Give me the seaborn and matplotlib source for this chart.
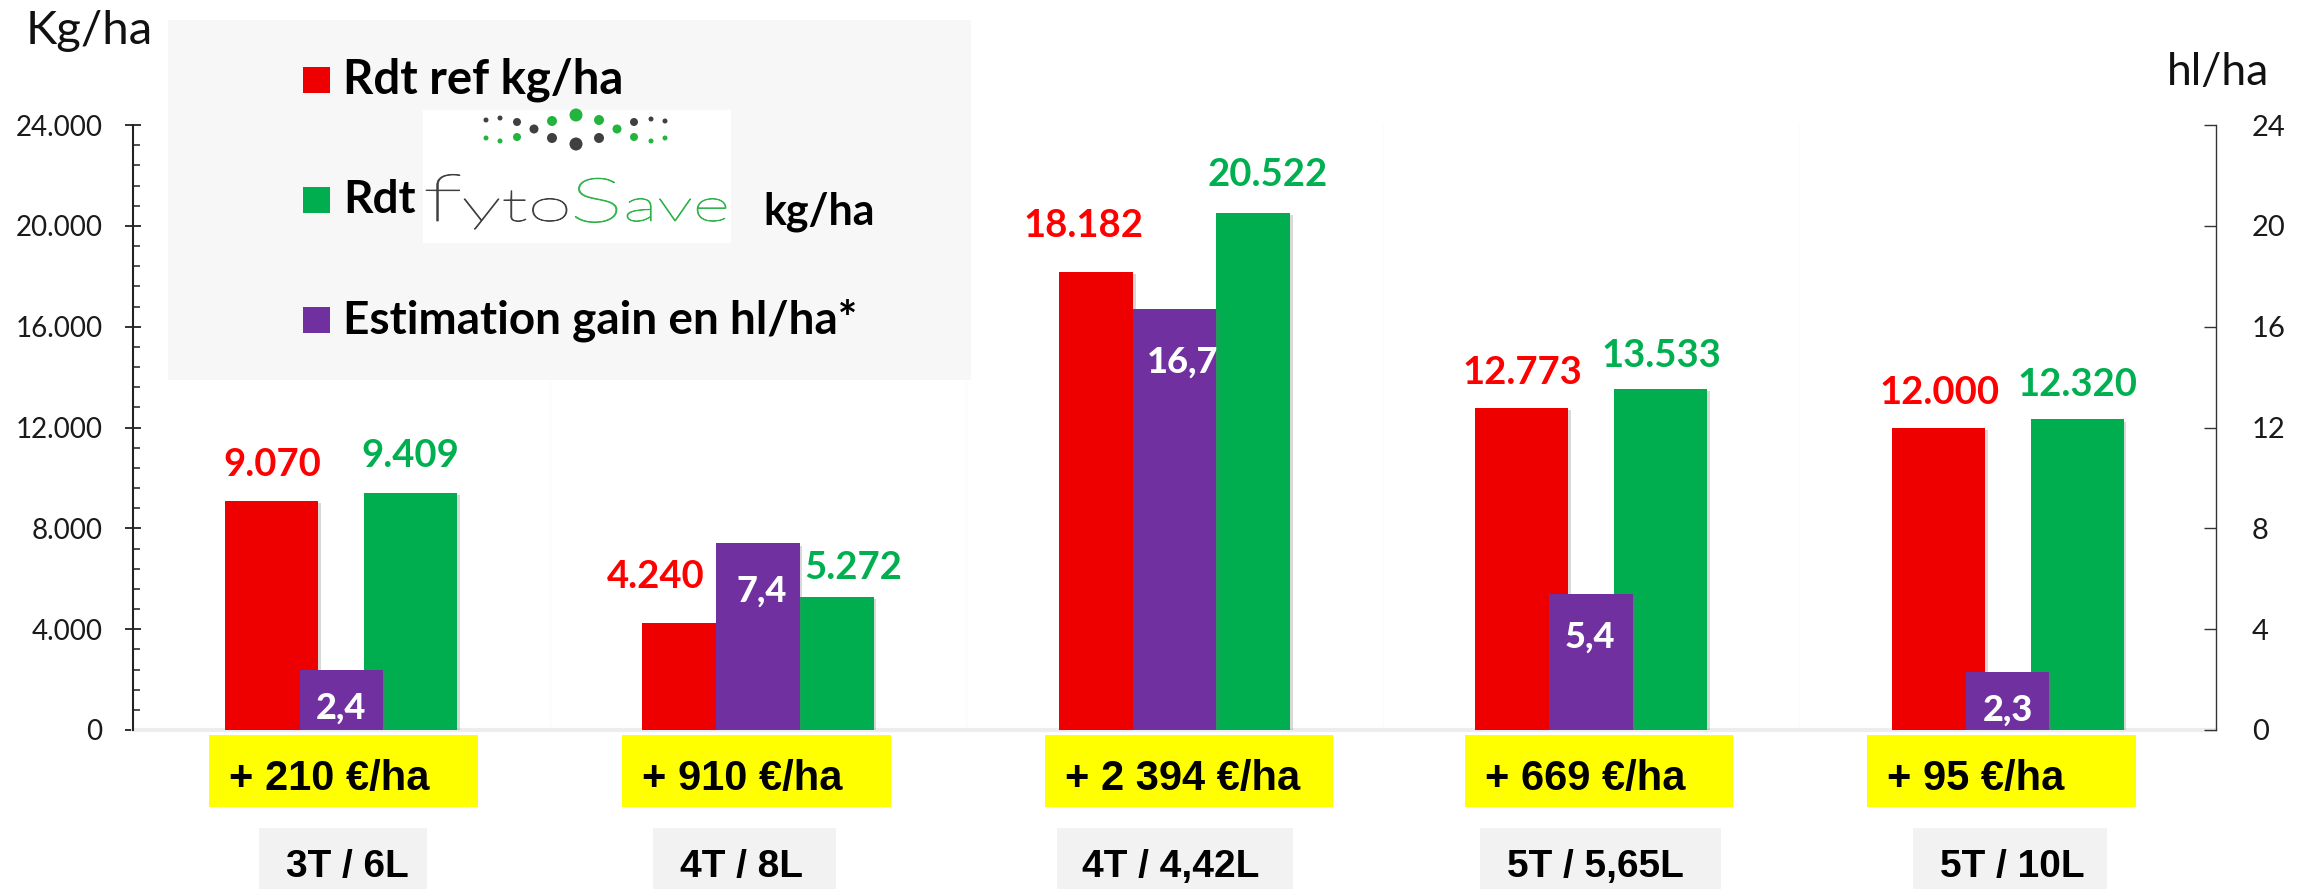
import matplotlib
matplotlib.use("Agg")
import numpy as np
import pandas as pd
import matplotlib.pyplot as plt
import matplotlib.patheffects as pe
import matplotlib.transforms as mtransforms
from matplotlib.patches import Rectangle, PathPatch
from matplotlib.textpath import TextPath
from matplotlib.font_manager import FontProperties
from matplotlib.ticker import MultipleLocator
import seaborn as sns

# ---- data -------------------------------------------------------------
essais = ["3T / 6L", "4T / 8L", "4T / 4,42L", "5T / 5,65L", "5T / 10L"]
rdt_ref = [9070, 4240, 18182, 12773, 12000]          # kg/ha
rdt_fytosave = [9409, 5272, 20522, 13533, 12320]     # kg/ha
gain_hl = [2.4, 7.4, 16.7, 5.4, 2.3]                 # hl/ha
gain_eur = [210, 910, 2394, 669, 95]                 # €/ha
kg_ticks = [0, 4000, 8000, 12000, 16000, 20000, 24000]
hl_ticks = [0, 4, 8, 12, 16, 20, 24]
legend_ref = "Rdt ref kg/ha"
legend_fyto = ("Rdt", "kg/ha")
legend_gain = "Estimation gain en hl/ha*"

RED, RED_TXT = "#EE0000", "#FF0000"
GREEN, GREEN_TXT = "#00AE50", "#00B050"
PURPLE = "#7030A0"
YELLOW = "#FFFF00"
LOGO_GREY, LOGO_GREEN = "#3F3F3F", "#2DB34A"


def fmt_kg(v):
    return f"{v:,}".replace(",", ".")


def fmt_hl(v):
    return f"{v:.1f}".replace(".", ",")


def fmt_eur(v):
    return f"+ {v:,} €/ha".replace(",", " ")


# ---- layout (pixels of a 2318 x 889 canvas) ---------------------------
W, H = 2318, 889
AX_L, AX_R, AX_T, AX_B = 133, 2216, 125, 730
outer = 0.278                                   # outer edge of red/green bars
inner = [0.055, 0.100, 0.100, 0.055, 0.055]     # inner edge of red/green bars
red_dx, red_gap = [0, -23, -12, 1, 1], [25, 35, 35, 24, 23]
green_dx, green_gap = [0, 17, 14, 1, 0], [26, 18, 27, 22, 23]
purple_dx, purple_drop = [0, 4, 8, -1, 0], [39, 48, 53, 43, 38]
yellow_l = [209, 622, 1045, 1465, 1867]
yellow_r = [478, 891, 1333, 1733, 2136]
grey_l = [259, 653, 1057, 1480, 1913]
grey_r = [427, 836, 1293, 1721, 2107]
grey_cx = [347, 742, 1171, 1595, 2012]
PX = 0.72  # points per pixel at 100 dpi

sns.set_theme(style="white")
plt.rcParams["font.family"] = ["Lato", "DejaVu Sans"]

fig = plt.figure(figsize=(W / 100, H / 100), dpi=100)
fig.patch.set_facecolor("white")
ax = fig.add_axes([AX_L / W, 1 - AX_B / H, (AX_R - AX_L) / W, (AX_B - AX_T) / H])
ax.patch.set_alpha(0)

# ---- yield bars (kg/ha, left axis) ------------------------------------
df = pd.DataFrame({
    "essai": essais * 2,
    "rdt": rdt_ref + rdt_fytosave,
    "serie": ["ref"] * len(essais) + ["fytosave"] * len(essais),
})
sns.barplot(data=df, x="essai", y="rdt", hue="serie", hue_order=["ref", "fytosave"],
            palette={"ref": RED, "fytosave": GREEN}, saturation=1, errorbar=None,
            legend=False, ax=ax, zorder=2)

ax2 = ax.twinx()
sns.barplot(x=essais, y=gain_hl, color=PURPLE, saturation=1, width=0.2,
            errorbar=None, ax=ax2, zorder=3)

red_bars, green_bars = ax.containers[0], ax.containers[1]
purple_bars = ax2.containers[0]
for i, p in enumerate(red_bars):
    p.set_x(i - outer)
    p.set_width(outer - inner[i])
for i, p in enumerate(green_bars):
    p.set_x(i + inner[i])
    p.set_width(outer - inner[i])

shadow = [pe.SimplePatchShadow(offset=(2, -1.5), shadow_rgbFace="0.45", alpha=0.28), pe.Normal()]
for bars in (red_bars, green_bars, purple_bars):
    for p in bars:
        p.set_path_effects(shadow)
        p.set_linewidth(0)

ax.set_xlim(-0.5, 4.5)
ax2.set_xlim(-0.5, 4.5)
ax.set_ylim(0, 24000)
ax2.set_ylim(0, 24)

# very faint category separators and light baseline
for b in np.arange(0.5, len(essais) - 0.5, 1):
    ax.axvline(b, color="#FBFBFB", lw=1.0, zorder=0)
ax.axhline(0, color="#EDEDED", lw=3, zorder=1, clip_on=False)

# ---- axes styling -----------------------------------------------------
ax.set_yticks(kg_ticks)
ax.set_yticklabels([fmt_kg(v) for v in kg_ticks])
ax.yaxis.set_minor_locator(MultipleLocator(800))
ax.tick_params(axis="y", which="major", direction="inout", length=12, width=1.3,
               color="#222222", pad=16, labelsize=20, labelcolor="#1A1A1A", left=True)
ax.tick_params(axis="y", which="minor", direction="in", length=5, width=1.1,
               color="#222222", left=True)
ax.tick_params(axis="x", bottom=False, labelbottom=False)
ax.set_xlabel("")
ax.set_ylabel("")
for s in ("top", "right", "bottom"):
    ax.spines[s].set_visible(False)
ax.spines["left"].set_color("#222222")
ax.spines["left"].set_linewidth(1.5)

ax2.set_yticks(hl_ticks)
ax2.set_yticklabels([str(v) for v in hl_ticks])
ax2.tick_params(axis="y", which="major", direction="in", length=8.6, width=1,
                color="#333333", pad=26, labelsize=21, labelcolor="#1A1A1A",
                right=True, left=False, labelright=True, labelleft=False)
ax2.tick_params(axis="x", bottom=False, labelbottom=False)
ax2.set_xlabel("")
ax2.set_ylabel("")
for s in ("top", "left", "bottom"):
    ax2.spines[s].set_visible(False)
ax2.spines["right"].set_color("#333333")
ax2.spines["right"].set_linewidth(1)

# ---- value labels -----------------------------------------------------
for bars, vals, dxs, gaps, col in ((red_bars, rdt_ref, red_dx, red_gap, RED_TXT),
                                   (green_bars, rdt_fytosave, green_dx, green_gap, GREEN_TXT)):
    for i, p in enumerate(bars):
        cx = p.get_x() + p.get_width() / 2
        ax2.annotate(fmt_kg(vals[i]), xy=(cx, vals[i]), xycoords=ax.transData,
                     xytext=(dxs[i] * PX, gaps[i] * PX), textcoords="offset points",
                     ha="center", va="baseline", color=col, fontsize=27.5,
                     fontweight="bold", zorder=6)

for i, p in enumerate(purple_bars):
    cx = p.get_x() + p.get_width() / 2
    ax2.annotate(fmt_hl(gain_hl[i]), xy=(cx, gain_hl[i]),
                 xytext=(purple_dx[i] * PX, -purple_drop[i] * PX), textcoords="offset points",
                 ha="center", va="center", color="white", fontsize=26,
                 fontweight="black", zorder=6)

# ---- overlay in canvas pixels: units, legend, logo, boxes --------------
ov = fig.add_axes([0, 0, 1, 1], zorder=10)
ov.set_xlim(0, W)
ov.set_ylim(H, 0)
ov.axis("off")
ov.patch.set_alpha(0)

ov.text(26, 44, "Kg/ha", fontsize=34, color="#111111", ha="left", va="baseline")
ov.text(2218, 85, "hl/ha", fontsize=32, color="#111111", ha="center", va="baseline")

# legend panel
ov.add_patch(Rectangle((168, 20), 803, 360, color="#F7F7F7", lw=0, zorder=1))
for y0, col in ((67, RED), (187, GREEN), (307, PURPLE)):
    ov.add_patch(Rectangle((303, y0), 27, 26, color=col, lw=0, zorder=2))
ov.text(343, 93, legend_ref, fontsize=34, fontweight="bold", color="black",
        ha="left", va="baseline", zorder=3)
ov.text(343, 213, legend_fyto[0], fontsize=33, fontweight="bold", color="black",
        ha="left", va="baseline", zorder=3)
ov.text(763, 225, legend_fyto[1], fontsize=31, fontweight="bold", color="black",
        ha="left", va="baseline", zorder=3)
ov.text(343, 333, legend_gain, fontsize=33, fontweight="bold", color="black",
        ha="left", va="baseline", zorder=3)

# fytoSave logo
ov.add_patch(Rectangle((423, 110), 308, 133, color="white", lw=0, zorder=2))
logo_font = FontProperties(family="Lato", weight="light")


def logo_word(txt, x_left, x_right, baseline, size, color):
    tp = TextPath((0, 0), txt, size=size, prop=logo_font)
    ext = tp.get_extents()
    sx = (x_right - x_left) / ext.width
    tr = mtransforms.Affine2D().translate(-ext.x0, 0).scale(sx, -1).translate(x_left, baseline)
    ov.add_patch(PathPatch(tp, transform=tr + ov.transData, color=color, lw=0.6, zorder=4))


logo_word("f", 426, 460, 221, 66, LOGO_GREY)
logo_word("yto", 464, 567, 221, 45, LOGO_GREY)
logo_word("S", 575, 617, 222, 62, LOGO_GREEN)
logo_word("ave", 627, 726, 221, 45, LOGO_GREEN)

dots_grey = [(486, 120, 5), (500, 118, 5), (517, 122, 8), (534, 129, 9), (552, 138, 10),
             (576, 144, 13), (599, 138, 10), (634, 122, 8), (651, 119, 5), (665, 121, 5)]
dots_green = [(486, 138, 5), (500, 141, 5), (517, 137, 8), (552, 121, 10), (576, 115, 13),
              (599, 120, 10), (617, 129, 9), (634, 137, 8), (651, 141, 5), (665, 138, 5)]
for pts, col in ((dots_grey, "#404040"), (dots_green, "#22B43C")):
    ov.scatter([p[0] for p in pts], [p[1] for p in pts],
               s=[(p[2] * PX) ** 2 for p in pts], color=col, lw=0, zorder=5)

# gain boxes and trial labels under the bars
for i in range(len(essais)):
    ov.add_patch(Rectangle((yellow_l[i], 735), yellow_r[i] - yellow_l[i], 72,
                           color=YELLOW, lw=0, zorder=1))
    ov.text(yellow_l[i] + 20, 790, fmt_eur(gain_eur[i]), family="Liberation Sans",
            fontweight="bold", fontsize=30, color="black", ha="left", va="baseline", zorder=2)
    ov.add_patch(Rectangle((grey_l[i], 828), grey_r[i] - grey_l[i], 70,
                           color="#F2F2F2", lw=0, zorder=1))
    ov.text(grey_cx[i], 877, essais[i], family="Liberation Sans", fontweight="bold",
            fontsize=28, color="black", ha="center", va="baseline", zorder=2)

fig.savefig("out.png", dpi=100)
